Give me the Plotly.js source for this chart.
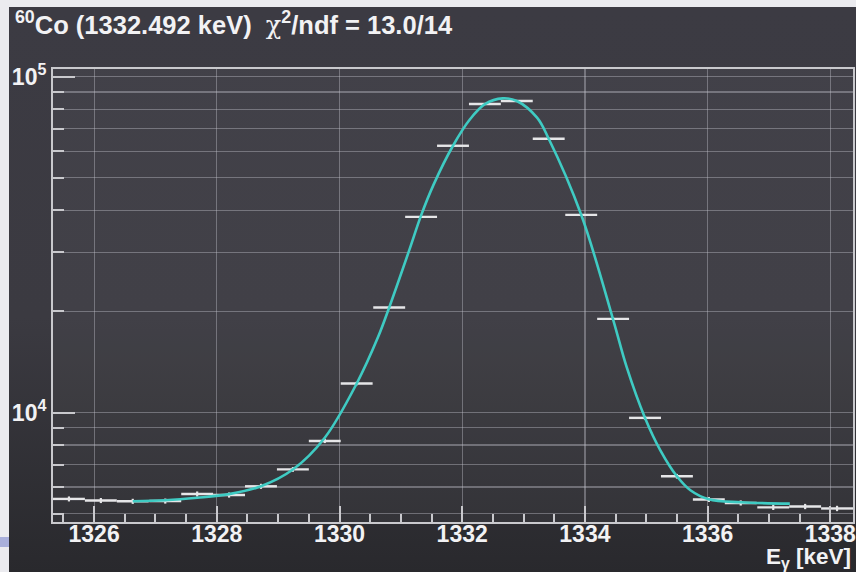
<!DOCTYPE html>
<html>
<head>
<meta charset="utf-8">
<script src="https://cdn.plot.ly/plotly-3.0.1.min.js"></script>
<style>
  html, body { margin: 0; padding: 0; width: 856px; height: 572px; overflow: hidden; background: #ebebef; }
  #strip { position: absolute; left: 0; top: 537px; width: 9px; height: 10px; background: #a9afdb; }
  #frame { position: absolute; left: 9px; top: 7px; width: 847px; height: 565px;
           background: linear-gradient(#3c3b43 0%, #3b3a41 55%, #29292d 100%); }
  #chart { width: 847px; height: 565px; }
</style>
</head>
<body>
<div id="strip"></div>
<div id="frame"><div id="chart"></div></div>
<script>
// 60Co 1332.492 keV photopeak: binned counts (bin centres in keV) and the fitted line shape
const binCenters = [1325.59, 1326.11, 1326.63, 1327.16, 1327.68, 1328.20, 1328.72, 1329.24,
                    1329.76, 1330.28, 1330.81, 1331.33, 1331.85, 1332.37, 1332.89, 1333.41,
                    1333.94, 1334.46, 1334.98, 1335.50, 1336.02, 1336.54, 1337.07, 1337.59, 1338.11];
const binHalfWidth = 0.26;
const counts = [5530, 5470, 5440, 5450, 5720, 5680, 6030, 6770, 8230, 12200, 20550, 38260, 62290,
                82900, 84640, 65350, 38790, 19000, 9640, 6460, 5510, 5380, 5220, 5250, 5180];
const countErr = [95, 95, 95, 95, 100, 100, 105, 110, 120, 150, 190, 260, 330,
                  380, 385, 340, 260, 185, 130, 105, 95, 95, 95, 95, 95];

// fitted curve sampled along the energy axis
const fitE = [1326.63, 1327.16, 1327.68, 1328.20, 1328.72, 1329.24, 1329.76, 1330.28, 1330.63,
              1330.81, 1331.14, 1331.33, 1331.53, 1331.85, 1332.13, 1332.37, 1332.66, 1332.89,
              1333.22, 1333.41, 1333.94, 1334.46, 1334.68, 1334.98, 1335.23, 1335.50, 1335.72,
              1336.02, 1336.54, 1337.34];
const fitCounts = [5445, 5479, 5572, 5715, 6033, 6765, 8414, 12200, 16800,
                   20550, 30550, 38640, 47560, 62290, 74820, 82870, 86230, 84660,
                   75510, 65350, 38800, 18920, 13670, 9636, 7720, 6460, 5870,
                   5517, 5404, 5356];

// axis ticks
const xMajorStep = 2;
const xMinorStep = 0.5;
const yMajorVals = [1e4, 1e5];
const yMajorText = ['10<sup>4</sup>', '10<sup>5</sup>'];
const yMinorVals = [5000, 6000, 7000, 8000, 9000, 20000, 30000, 40000, 50000, 60000, 70000, 80000, 90000];

const titleText = '<sup>60</sup>Co (1332.492 keV)  ' +
  '<span style="font-family:\'DejaVu Serif\';font-weight:normal">χ</span><sup>2</sup>/ndf = 13.0/14';

const white = '#f2f2f4';
const gridCol = 'rgba(190,190,200,0.42)';
const axisCol = '#c9c9cd';

const histTrace = {
  x: binCenters, y: counts, type: 'scatter', mode: 'markers',
  marker: { size: 1, color: 'rgba(0,0,0,0)' },
  error_x: { type: 'constant', value: binHalfWidth, width: 0, thickness: 2.4, color: '#e6e6e8' },
  error_y: { type: 'data', array: countErr, width: 0, thickness: 2.2, color: '#e6e6e8' },
  hoverinfo: 'x+y', showlegend: false
};

const fitTrace = {
  x: fitE, y: fitCounts, type: 'scatter', mode: 'lines',
  line: { color: '#3fcbc3', width: 2.6, shape: 'spline', smoothing: 1 },
  showlegend: false
};

const layout = {
  width: 847, height: 565,
  margin: { l: 44, r: 3, t: 62, b: 50 },
  paper_bgcolor: 'rgba(0,0,0,0)',
  plot_bgcolor: 'rgba(255,255,255,0.035)',
  font: { family: '"Liberation Sans", Arial, sans-serif', color: white },
  title: {
    text: titleText,
    xref: 'container', x: 0.007, xanchor: 'left',
    yref: 'container', y: 0.968, yanchor: 'middle',
    font: { family: '"Liberation Sans", Arial, sans-serif', size: 25.5, color: white, weight: 'bold' }
  },
  xaxis: {
    range: [1325.33, 1338.37],
    tickmode: 'linear', tick0: 1326, dtick: xMajorStep,
    ticks: 'inside', ticklen: 16, tickwidth: 2, tickcolor: axisCol,
    ticklabeloverflow: 'allow', ticklabelstandoff: -10,
    showgrid: true, gridcolor: gridCol, gridwidth: 1.2,
    zeroline: false,
    showline: true, linecolor: axisCol, linewidth: 2, mirror: true,
    tickfont: { size: 23, color: white, weight: 'bold' },
    minor: { ticks: 'inside', ticklen: 8, tickwidth: 2, tickcolor: axisCol, dtick: xMinorStep, tick0: 1326, showgrid: false }
  },
  yaxis: {
    type: 'log',
    range: [3.674, 5.023],
    tickmode: 'array', tickvals: yMajorVals, ticktext: yMajorText,
    ticks: 'inside', ticklen: 22, tickwidth: 2, tickcolor: axisCol,
    ticklabeloverflow: 'allow',
    showgrid: true, gridcolor: gridCol, gridwidth: 1.2,
    zeroline: false,
    showline: true, linecolor: axisCol, linewidth: 2, mirror: true,
    tickfont: { size: 23, color: white, weight: 'bold' },
    minor: { tickmode: 'array', tickvals: yMinorVals, ticks: 'inside', ticklen: 11, tickwidth: 2,
             tickcolor: axisCol, showgrid: true, gridcolor: gridCol, gridwidth: 1.2 }
  },
  annotations: [{
    text: 'E<sub>γ</sub> [keV]',
    xref: 'paper', yref: 'paper', x: 1, y: -0.079, xanchor: 'right', yanchor: 'middle',
    showarrow: false,
    font: { family: '"Liberation Sans", Arial, sans-serif', size: 22.5, color: white, weight: 'bold' }
  }]
};

Plotly.newPlot('chart', [histTrace, fitTrace], layout, { displayModeBar: false, staticPlot: true });
</script>
</body>
</html>
